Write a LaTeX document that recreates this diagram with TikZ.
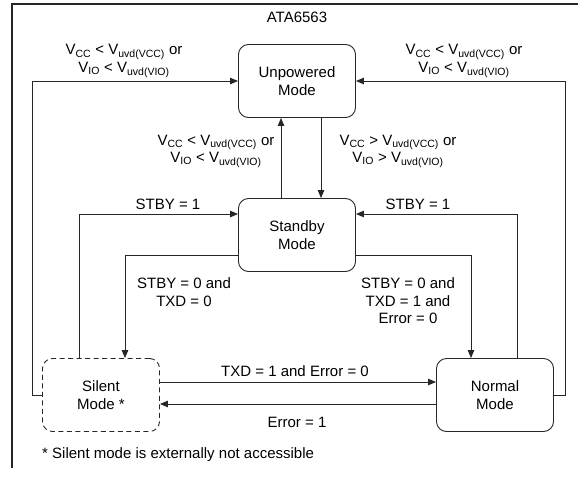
\documentclass[tikz,border=0pt]{standalone}
\usepackage{fontspec}
\setmainfont{Liberation Sans}
\usetikzlibrary{arrows.meta}
\begin{document}
\begin{tikzpicture}[x=1pt,y=-1pt,
  mode/.style={draw=black!85, line width=0.9pt, rounded corners=10pt,
    minimum width=117pt, minimum height=73pt, align=center, inner sep=0pt,
    font=\fontsize{15}{18}\selectfont},
  lbl/.style={align=center, inner sep=0pt, font=\fontsize{15}{17.5}\selectfont},
  conn/.style={draw=black!85, line width=0.8pt, -{Triangle[length=8pt,width=6.5pt]}},
  frameline/.style={draw=black!85, line width=1.3pt},
  ]
\useasboundingbox (0,0) rectangle (578,479);
\coordinate (fr) at (578,4);
\coordinate (fc) at (12,4);
\coordinate (fb) at (12,468);
\draw[frameline] (fr) -- (fc) -- (fb);

\node[lbl] (title) at (297,17) {ATA6563};

\node[mode] (unp) at (297,81) {Unpowered\\Mode};
\node[mode] (stb) at (297,235) {Standby\\Mode};
\node[mode, dashed, dash pattern=on 5pt off 3.5pt] (sil) at (101,395) {Silent\\Mode *};
\node[mode] (nor) at (495,395) {Normal\\Mode};

% outer loops to Unpowered
\draw[conn] (sil.west) -- ++(-10,0) |- (unp.west);
\draw[conn] (nor.east) -- ++(11,0) |- (unp.east);
\node[lbl] (l1) at (124,61) {V\textsubscript{CC} < V\textsubscript{uvd(VCC)} or\\V\textsubscript{IO} < V\textsubscript{uvd(VIO)}};
\node[lbl] (l2) at (464,61) {V\textsubscript{CC} < V\textsubscript{uvd(VCC)} or\\V\textsubscript{IO} < V\textsubscript{uvd(VIO)}};

% Standby <-> Unpowered
\draw[conn] ([xshift=-16pt]stb.north) -- ([xshift=-16pt]unp.south);
\draw[conn] ([xshift=24pt]unp.south) -- ([xshift=24pt]stb.north);
\node[lbl] (l3) at (216,151) {V\textsubscript{CC} < V\textsubscript{uvd(VCC)} or\\V\textsubscript{IO} < V\textsubscript{uvd(VIO)}};
\node[lbl] (l4) at (398,151) {V\textsubscript{CC} > V\textsubscript{uvd(VCC)} or\\V\textsubscript{IO} > V\textsubscript{uvd(VIO)}};

% STBY = 1 returns
\draw[conn] ([xshift=-22pt]sil.north) |- ([yshift=21pt]stb.west);
\draw[conn] ([xshift=22pt]nor.north) |- ([yshift=21pt]stb.east);
\node[lbl] (l5) at (168,204) {STBY = 1};
\node[lbl] (l6) at (418,204) {STBY = 1};

% Standby -> Silent / Normal
\draw[conn] ([yshift=-20pt]stb.west) -| ([xshift=24pt]sil.north);
\draw[conn] ([yshift=-20pt]stb.east) -| ([xshift=-24pt]nor.north);
\node[lbl] (l7) at (184,292) {STBY = 0 and\\TXD = 0};
\node[lbl] (l8) at (408,301) {STBY = 0 and\\TXD = 1 and\\Error = 0};

% Silent <-> Normal
\draw[conn] ([yshift=13pt]sil.east) -- ([yshift=13pt]nor.west);
\draw[conn] ([yshift=-9pt]nor.west) -- ([yshift=-9pt]sil.east);
\node[lbl] (l9) at (295,371) {TXD = 1 and Error = 0};
\node[lbl] (l10) at (297,422) {Error = 1};

\node[lbl, anchor=west] (note) at (42,455) {* Silent mode is externally not accessible};
\end{tikzpicture}
\end{document}
